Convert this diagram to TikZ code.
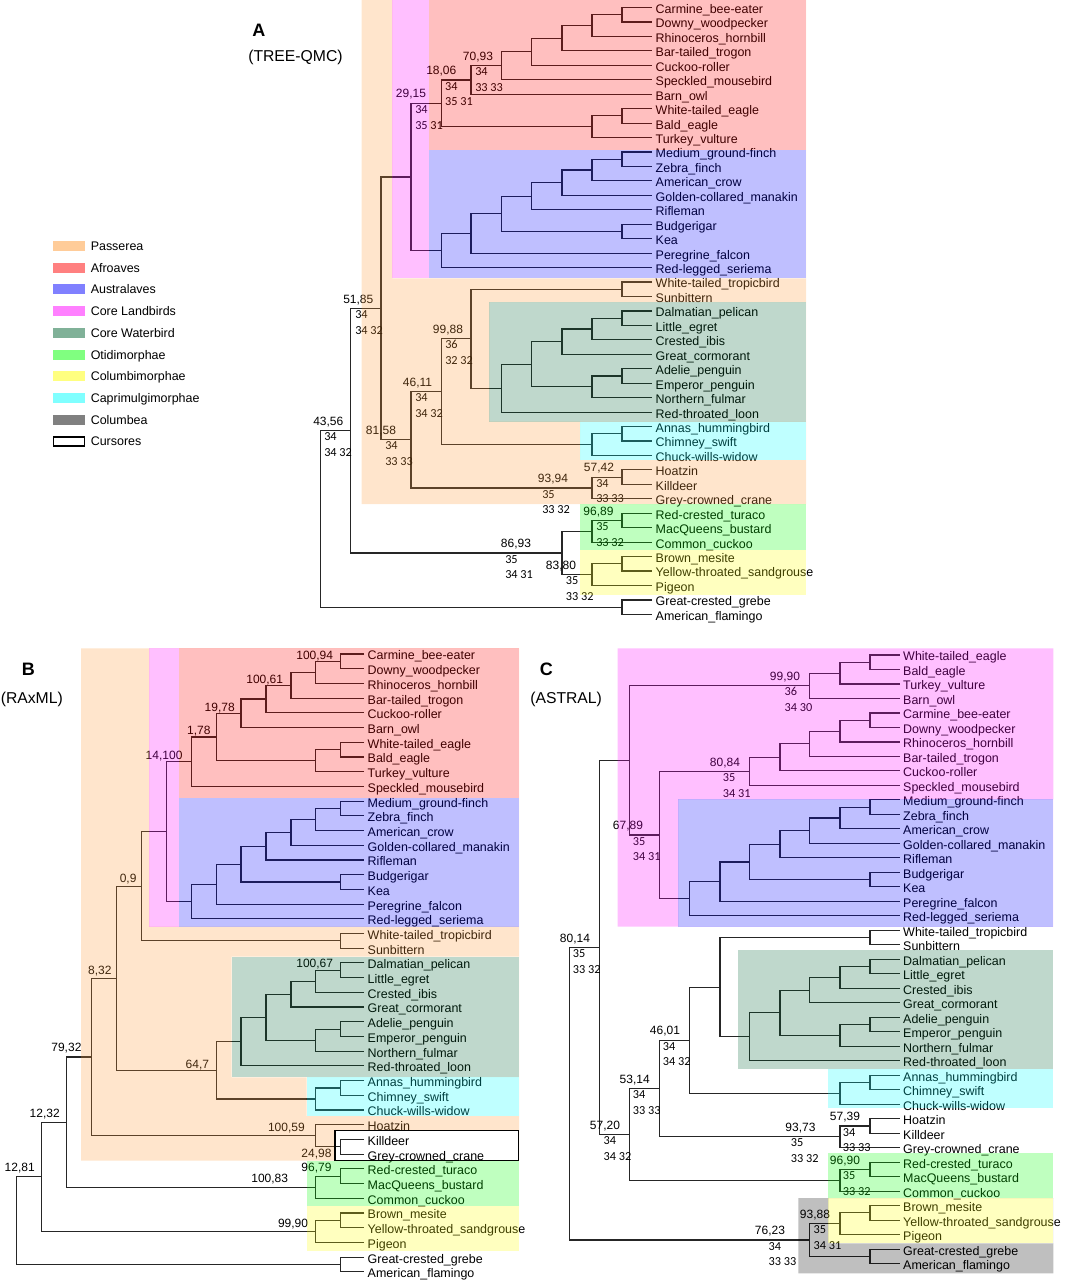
\documentclass[tikz,border=0pt]{standalone}
\usepackage{fontspec}
\setmainfont{Liberation Sans}
\newfontfamily\countfont{Carlito}
\usetikzlibrary{calc,positioning}

\definecolor{passerea}{RGB}{255,153,51}
\definecolor{afroaves}{RGB}{255,0,0}
\definecolor{australaves}{RGB}{0,0,255}
\definecolor{landbird}{RGB}{255,0,255}
\definecolor{waterbird}{RGB}{0,100,50}
\definecolor{otidi}{RGB}{0,255,0}
\definecolor{columbi}{RGB}{255,255,0}
\definecolor{caprimulgi}{RGB}{0,255,255}
\definecolor{columbea}{RGB}{0,0,0}

\tikzset{
  branch/.style={line width=0.85pt, draw=black!85},
  leaf/.style={anchor=west, inner xsep=2.6pt, inner ysep=0pt, text height=8.9pt, text depth=0pt, font=\fontsize{9.35}{11}\selectfont},
  bsup/.style={inner sep=0pt, text height=6.5pt, text depth=0pt, font=\fontsize{9}{11}\selectfont},
  supB/.style={bsup, anchor=east},
  cnt/.style={anchor=west, inner sep=0pt, text height=5.8pt, text depth=0pt, font=\countfont\fontsize{9.2}{11}\selectfont},
  region/.style={fill opacity=0.25},
  legtext/.style={anchor=west, inner sep=0pt, text height=6.7pt, text depth=0pt, font=\fontsize{9.35}{11}\selectfont},
  ptitle/.style={anchor=west, inner sep=0pt, text depth=0pt, font=\bfseries\fontsize{13.5}{16}\selectfont},
  psub/.style={anchor=west, inner sep=0pt, text depth=0pt, font=\fontsize{11.8}{14}\selectfont}
}

% internal node: name, x (px), upper child, lower child
\newcommand{\clade}[4]{%
  \path let \p1=(#3), \p2=(#4) in coordinate (#1) at ({#2*0.75pt},{0.5*\y1+0.5*\y2});
  \draw[branch] (#3) -| (#1) |- (#4);}
% support values: name, anchor, dx of top, dx of counts, top, counts
\newcommand{\triple}[7]{%
  \node[bsup] (#1) at ($#2+(#3,-9.7)$) {#5};
  \node[cnt] (#1a) at ($#2+(#4,6.3)$) {#6};
  \node[cnt] (#1b) at ($#2+(#4,21.8)$) {#7};}

\begin{document}
\begin{tikzpicture}[x=0.75pt, y=-0.75pt]
\useasboundingbox (0,0) rectangle (1064,1280);

% ---------- A (TREE-QMC)
\node[ptitle] (tA) at (252,30) {A};
\node[psub] (tA2) at (248,56) {(TREE-QMC)};

\foreach \t [count=\i from 0] in {Carmine\_bee-eater, Downy\_woodpecker, Rhinoceros\_hornbill, Bar-tailed\_trogon, Cuckoo-roller, Speckled\_mousebird, Barn\_owl, White-tailed\_eagle, Bald\_eagle, Turkey\_vulture, Medium\_ground-finch, Zebra\_finch, American\_crow, Golden-collared\_manakin, Rifleman, Budgerigar, Kea, Peregrine\_falcon, Red-legged\_seriema, White-tailed\_tropicbird, Sunbittern, Dalmatian\_pelican, Little\_egret, Crested\_ibis, Great\_cormorant, Adelie\_penguin, Emperor\_penguin, Northern\_fulmar, Red-throated\_loon, Annas\_hummingbird, Chimney\_swift, Chuck-wills-widow, Hoatzin, Killdeer, Grey-crowned\_crane, Red-crested\_turaco, MacQueens\_bustard, Common\_cuckoo, Brown\_mesite, Yellow-throated\_sandgrouse, Pigeon, Great-crested\_grebe, American\_flamingo}
  \node[leaf] (A\i) at (652,{7.5+14.45*\i}) {\t};

\clade{Aa}{622}{A0}{A1}
\clade{Ab}{592}{Aa}{A2}
\clade{Ac}{562}{Ab}{A3}
\clade{Ad}{531.3}{Ac}{A4}
\clade{Ae}{501.3}{Ad}{A5}
\clade{Af}{471}{Ae}{A6}
\clade{Ag}{622}{A7}{A8}
\clade{Ah}{592}{Ag}{A9}
\clade{Ai}{441.3}{Af}{Ah}
\clade{Ak1}{622}{A10}{A11}
\clade{Ak2}{592}{Ak1}{A12}
\clade{Ak3}{562}{Ak2}{A13}
\clade{Ak4}{531.3}{Ak3}{A14}
\clade{Ak5}{622}{A15}{A16}
\clade{Ak6}{501.3}{Ak4}{Ak5}
\clade{Ak7}{471}{Ak6}{A17}
\clade{Ak8}{441.3}{Ak7}{A18}
\clade{Aj}{411}{Ai}{Ak8}
\clade{Aq1}{622}{A19}{A20}
\clade{Aw1}{622}{A21}{A22}
\clade{Aw2}{592}{Aw1}{A23}
\clade{Aw3}{562}{Aw2}{A24}
\clade{Aw4}{622}{A25}{A26}
\clade{Aw5}{592}{Aw4}{A27}
\clade{Aw6}{531.3}{Aw3}{Aw5}
\clade{Aw7}{501.3}{Aw6}{A28}
\clade{Aq}{471}{Aq1}{Aw7}
\clade{Ay1}{622}{A29}{A30}
\clade{Ay2}{592}{Ay1}{A31}
\clade{Ap}{441.3}{Aq}{Ay2}
\clade{As1}{622}{A32}{A33}
\clade{As2}{592}{As1}{A34}
\clade{Am}{411}{Ap}{As2}
\clade{Al}{381}{Aj}{Am}
\clade{Av1}{622}{A35}{A36}
\clade{Av}{592}{Av1}{A37}
\clade{Au1}{622}{A38}{A39}
\clade{Au}{592}{Au1}{A40}
\clade{At}{562}{Av}{Au}
\clade{An}{350.7}{Al}{At}
\clade{Ao}{622}{A41}{A42}
\clade{Ar}{320.7}{An}{Ao}

\triple{sA1}{(Af |- Ae)}{7}{4}{70,93}{34}{33 33}
\triple{sA2}{(Ai |- Af)}{0}{3.5}{18,06}{34}{35 31}
\triple{sA3}{(Aj |- Ai)}{0}{4}{29,15}{34}{35 31}
\triple{sA4}{(An |- Al)}{7.6}{4.3}{51,85}{34}{34 32}
\triple{sA5}{(Ap |- Aq)}{6.7}{3.7}{99,88}{36}{32 32}
\triple{sA6}{(Am |- Ap)}{6.5}{4}{46,11}{34}{34 32}
\triple{sA7}{(Ar |- An)}{7.6}{3.3}{43,56}{34}{34 32}
\triple{sA8}{(Al |- Am)}{0}{4}{81,58}{34}{33 33}
\triple{sA9}{(As2 |- As1)}{7}{4}{57,42}{34}{33 33}
\triple{sA10}{(As2)}{-39}{-50}{93,94}{35}{33 32}
\triple{sA11}{(Av |- Av1)}{6.5}{4}{96,89}{35}{33 32}
\triple{sA12}{(At)}{-46}{-57}{86,93}{35}{34 31}
\triple{sA13}{(At |- Au)}{-1}{3.7}{83,80}{35}{33 32}

\fill[passerea, region, even odd rule] (361.7,0) rectangle (806,504) (392.3,0) rectangle (806,278.3) (489.3,302) rectangle (806,421.7) (580,421.7) rectangle (806,460);
\fill[landbird, region] (392.3,0) rectangle (429.3,278.3);
\fill[afroaves, region] (429.3,0) rectangle (806,150);
\fill[australaves, region] (429.3,150) rectangle (806,278.3);
\fill[waterbird, region] (489.3,302) rectangle (806,421.7);
\fill[caprimulgi, region] (580,421.7) rectangle (806,460);
\fill[otidi, region] (580,504) rectangle (806,550);
\fill[columbi, region] (580,550) rectangle (806,595);

% ---------- legend
\foreach \c/\t [count=\i from 0] in {passerea/Passerea, afroaves/Afroaves, australaves/Australaves, landbird/Core Landbirds, waterbird/Core Waterbird, otidi/Otidimorphae, columbi/Columbimorphae, caprimulgi/Caprimulgimorphae, columbea/Columbea}
{
  \fill[\c!50] (52.7,{241+21.72*\i}) rectangle ++(32.3,10);
  \node[legtext] (L\i) at (90.5,{246+21.72*\i}) {\t};
}
\draw[line width=0.9pt] (53.2,436.9) rectangle (84.5,446);
\node[legtext] (L9) at (90.5,441.5) {Cursores};

% ---------- B (RAxML)
\node[ptitle] (tB) at (21.7,669) {B};
\node[psub] (tB2) at (0.5,698) {(RAxML)};

\foreach \t [count=\i from 0] in {Carmine\_bee-eater, Downy\_woodpecker, Rhinoceros\_hornbill, Bar-tailed\_trogon, Cuckoo-roller, Barn\_owl, White-tailed\_eagle, Bald\_eagle, Turkey\_vulture, Speckled\_mousebird, Medium\_ground-finch, Zebra\_finch, American\_crow, Golden-collared\_manakin, Rifleman, Budgerigar, Kea, Peregrine\_falcon, Red-legged\_seriema, White-tailed\_tropicbird, Sunbittern, Dalmatian\_pelican, Little\_egret, Crested\_ibis, Great\_cormorant, Adelie\_penguin, Emperor\_penguin, Northern\_fulmar, Red-throated\_loon, Annas\_hummingbird, Chimney\_swift, Chuck-wills-widow, Hoatzin, Killdeer, Grey-crowned\_crane, Red-crested\_turaco, MacQueens\_bustard, Common\_cuckoo, Brown\_mesite, Yellow-throated\_sandgrouse, Pigeon, Great-crested\_grebe, American\_flamingo}
  \node[leaf] (B\i) at (364,{654+14.71*\i}) {\t};

\clade{Ba}{340.7}{B0}{B1}
\clade{Bb}{315.7}{Ba}{B2}
\clade{Bc}{291}{Bb}{B3}
\clade{Bd}{266}{Bc}{B4}
\clade{Be}{241}{Bd}{B5}
\clade{Bf}{340.7}{B6}{B7}
\clade{Bg}{315.7}{Bf}{B8}
\clade{Bh}{216.3}{Be}{Bg}
\clade{Bi}{191.3}{Bh}{B9}
\clade{Bk1}{340.7}{B10}{B11}
\clade{Bk2}{315.7}{Bk1}{B12}
\clade{Bk3}{291}{Bk2}{B13}
\clade{Bk4}{266}{Bk3}{B14}
\clade{Bk5}{340.7}{B15}{B16}
\clade{Bk6}{241}{Bk4}{Bk5}
\clade{Bk7}{216.3}{Bk6}{B17}
\clade{Bk8}{191.3}{Bk7}{B18}
\clade{Bj}{166.3}{Bi}{Bk8}
\clade{Bq1}{340.7}{B19}{B20}
\clade{Bl}{141.3}{Bj}{Bq1}
\clade{Bw1}{340.7}{B21}{B22}
\clade{Bw2}{315.7}{Bw1}{B23}
\clade{Bw3}{291}{Bw2}{B24}
\clade{Bw4}{340.7}{B25}{B26}
\clade{Bw5}{315.7}{Bw4}{B27}
\clade{Bw6}{266}{Bw3}{Bw5}
\clade{Bw7}{241}{Bw6}{B28}
\clade{By1}{340.7}{B29}{B30}
\clade{By2}{315.7}{By1}{B31}
\clade{Bp}{216.3}{Bw7}{By2}
\clade{Bm}{116.3}{Bl}{Bp}
\clade{Bs1}{340.7}{B33}{B34}
\clade{Bs2}{315.7}{B32}{Bs1}
\clade{Bn}{91.3}{Bm}{Bs2}
\clade{Bv1}{340.7}{B35}{B36}
\clade{Bv}{315.7}{Bv1}{B37}
\clade{Bo}{66.7}{Bn}{Bv}
\clade{Bu1}{340.7}{B38}{B39}
\clade{Bu}{315.7}{Bu1}{B40}
\clade{Bx}{41.7}{Bo}{Bu}
\clade{Bo2}{340.7}{B41}{B42}
\clade{Br}{16.7}{Bx}{Bo2}

\node[supB] (sB1) at ($(Ba)+(-7.4,-6.5)$) {100,94};
\node[supB] (sB2) at ($(Bc)+(-7.7,-6.5)$) {100,61};
\node[supB] (sB3) at ($(Be)+(-6,-6.5)$) {19,78};
\node[supB] (sB4) at ($(Bh)+(-5.6,-6.5)$) {1,78};
\node[supB] (sB5) at ($(Bi)+(-8.6,-6.7)$) {14,100};
\node[supB] (sB6) at ($(Bl)+(-4.6,-7.9)$) {0,9};
\node[supB] (sB7) at ($(Bm)+(-4.6,-8.3)$) {8,32};
\node[supB] (sB8) at ($(Bw1)+(-7.4,-7.6)$) {100,67};
\node[supB] (sB9) at ($(Bp)+(-7,-6.5)$) {64,7};
\node[supB] (sB10) at ($(Bn)+(-9.6,-9.7)$) {79,32};
\node[supB] (sB11) at ($(Bs2)+(-10.7,-9)$) {100,59};
\node[supB] (sB12) at ($(Bs1)+(-9,6.5)$) {24,98};
\node[supB] (sB13) at ($(Bv1)+(-9,-8.9)$) {96,79};
\node[supB] (sB14) at ($(Bv)+(-27.4,-8.9)$) {100,83};
\node[supB] (sB15) at ($(Bo)+(-6.7,-8.9)$) {12,32};
\node[supB] (sB16) at ($(Bu)+(-7.4,-8.7)$) {99,90};
\node[supB] (sB17) at ($(Bx)+(-6.7,-9.5)$) {12,81};

\fill[passerea, region, even odd rule] (81,648.3) rectangle (519,1160.5) (149.3,648.3) rectangle (519,926.7) (231.7,956.7) rectangle (519,1077.3) (306.7,1077.3) rectangle (519,1116) (335,1130.7) rectangle (519,1160.5);
\fill[landbird, region] (149.3,648.3) rectangle (179.3,926.7);
\fill[afroaves, region] (179.3,648.3) rectangle (519,798.3);
\fill[australaves, region] (179.3,798.3) rectangle (519,926.7);
\fill[waterbird, region] (231.7,956.7) rectangle (519,1077.3);
\fill[caprimulgi, region] (306.7,1077.3) rectangle (519,1116);
\fill[otidi, region] (306.7,1160.7) rectangle (519,1205.7);
\fill[columbi, region] (306.7,1205.7) rectangle (519,1250.7);
\draw[line width=1pt] (335,1130.7) rectangle (518.3,1160.5);

% ---------- C (ASTRAL)
\node[ptitle] (tC) at (539.5,669) {C};
\node[psub] (tC2) at (530,698) {(ASTRAL)};

\foreach \t [count=\i from 0] in {White-tailed\_eagle, Bald\_eagle, Turkey\_vulture, Barn\_owl, Carmine\_bee-eater, Downy\_woodpecker, Rhinoceros\_hornbill, Bar-tailed\_trogon, Cuckoo-roller, Speckled\_mousebird, Medium\_ground-finch, Zebra\_finch, American\_crow, Golden-collared\_manakin, Rifleman, Budgerigar, Kea, Peregrine\_falcon, Red-legged\_seriema, White-tailed\_tropicbird, Sunbittern, Dalmatian\_pelican, Little\_egret, Crested\_ibis, Great\_cormorant, Adelie\_penguin, Emperor\_penguin, Northern\_fulmar, Red-throated\_loon, Annas\_hummingbird, Chimney\_swift, Chuck-wills-widow, Hoatzin, Killdeer, Grey-crowned\_crane, Red-crested\_turaco, MacQueens\_bustard, Common\_cuckoo, Brown\_mesite, Yellow-throated\_sandgrouse, Pigeon, Great-crested\_grebe, American\_flamingo}
  \node[leaf] (C\i) at (899.5,{655+14.49*\i}) {\t};

\clade{Ca}{870}{C0}{C1}
\clade{Cb}{840}{Ca}{C2}
\clade{Cc}{809.3}{Cb}{C3}
\clade{Cd}{870}{C4}{C5}
\clade{Ce}{840}{Cd}{C6}
\clade{Cf}{809.3}{Ce}{C7}
\clade{Cg}{780}{Cf}{C8}
\clade{Ch}{749.3}{Cg}{C9}
\clade{Ck1}{870}{C10}{C11}
\clade{Ck2}{840}{Ck1}{C12}
\clade{Ck3}{809.3}{Ck2}{C13}
\clade{Ck4}{780}{Ck3}{C14}
\clade{Ck5}{870}{C15}{C16}
\clade{Ck6}{749.3}{Ck4}{Ck5}
\clade{Ck7}{720}{Ck6}{C17}
\clade{Ck8}{689.3}{Ck7}{C18}
\clade{Ci}{659.3}{Ch}{Ck8}
\clade{Cj}{629.3}{Cc}{Ci}
\clade{Cq1}{870}{C19}{C20}
\clade{Cw1}{870}{C21}{C22}
\clade{Cw2}{840}{Cw1}{C23}
\clade{Cw3}{809.3}{Cw2}{C24}
\clade{Cw4}{870}{C25}{C26}
\clade{Cw5}{840}{Cw4}{C27}
\clade{Cw6}{780}{Cw3}{Cw5}
\clade{Cw7}{749.3}{Cw6}{C28}
\clade{Cq}{720}{Cq1}{Cw7}
\clade{Cy1}{870}{C29}{C30}
\clade{Cy2}{840}{Cy1}{C31}
\clade{Co}{689.3}{Cq}{Cy2}
\clade{Cs1}{870}{C32}{C33}
\clade{Cs2}{840}{Cs1}{C34}
\clade{Cn}{659.3}{Co}{Cs2}
\clade{Cv1}{870}{C35}{C36}
\clade{Cv}{840}{Cv1}{C37}
\clade{Cm}{629.3}{Cn}{Cv}
\clade{Cl}{599.3}{Cj}{Cm}
\clade{Cu1}{870}{C38}{C39}
\clade{Cu}{840}{Cu1}{C40}
\clade{Co2}{870}{C41}{C42}
\clade{Cx}{809.3}{Cu}{Co2}
\clade{Cr}{569.3}{Cl}{Cx}

\triple{sC1}{(Cc)}{-24.3}{-25}{99,90}{36}{34 30}
\triple{sC2}{(Ch)}{-24.3}{-26.6}{80,84}{35}{34 31}
\triple{sC3}{(Cj |- Ci)}{-1.3}{3.4}{67,89}{35}{34 31}
\triple{sC4}{(Cr |- Cl)}{5.7}{3.4}{80,14}{35}{33 32}
\triple{sC5}{(Cl |- Cm)}{5.7}{4}{57,20}{34}{34 32}
\triple{sC6}{(Cm |- Cn)}{5.4}{3.4}{53,14}{34}{33 33}
\triple{sC7}{(Cn |- Co)}{5.7}{3.4}{46,01}{34}{34 32}
\triple{sC8}{(Cs2 |- Cs1)}{5}{2.7}{57,39}{34}{33 33}
\triple{sC9}{(Cs2)}{-39.5}{-49.3}{93,73}{35}{33 32}
\triple{sC10}{(Cv |- Cv1)}{5}{2.7}{96,90}{35}{33 32}
\triple{sC11}{(Cx |- Cu)}{5.7}{4}{93,88}{35}{34 31}
\triple{sC12}{(Cx)}{-39.3}{-41}{76,23}{34}{33 33}

\fill[landbird, region, even odd rule] (617.7,648.3) rectangle (1053.3,926.7) (678.3,799.3) rectangle (1053.3,926.7);
\fill[australaves, region] (678.3,799.3) rectangle (1053.3,926.7);
\fill[waterbird, region] (738.3,950) rectangle (1053.3,1069.3);
\fill[caprimulgi, region] (828.3,1069.3) rectangle (1053.3,1107.7);
\fill[otidi, region] (828.3,1153.3) rectangle (1053.3,1198);
\fill[columbi, region] (828.3,1198) rectangle (1053.3,1243.3);
\fill[columbea, region, even odd rule] (798.3,1198) rectangle (1053.3,1273.3) (828.3,1198) rectangle (1053.3,1243.3);
\end{tikzpicture}
\end{document}
